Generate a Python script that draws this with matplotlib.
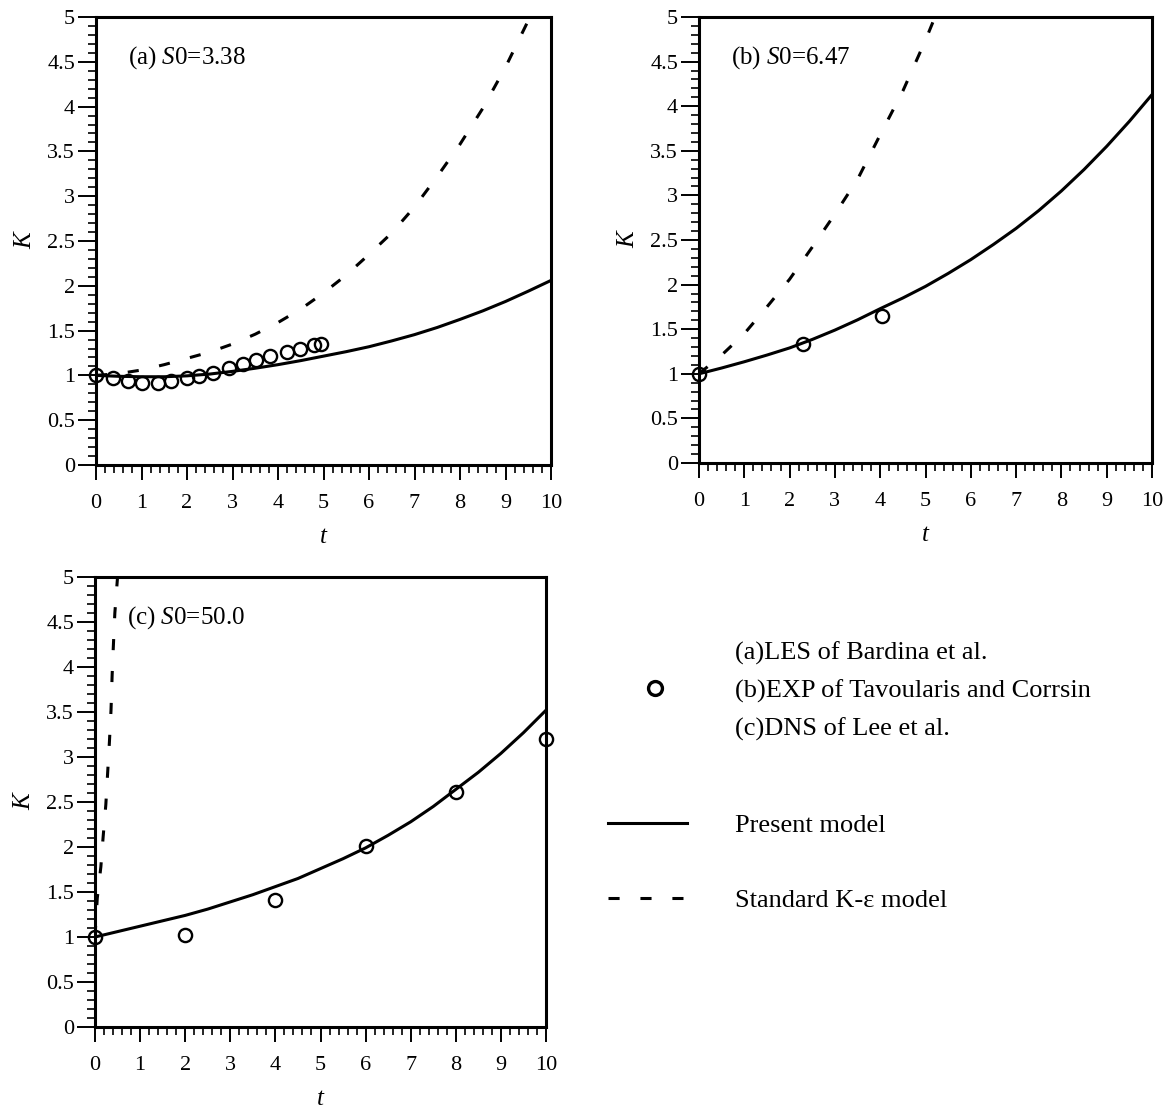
import numpy as np
import matplotlib
matplotlib.use('Agg')
import matplotlib.pyplot as plt
from matplotlib.lines import Line2D
from matplotlib.ticker import MultipleLocator, FormatStrFormatter

plt.rcParams['font.family'] = ['Liberation Serif', 'DejaVu Serif']
plt.rcParams['mathtext.fontset'] = 'custom'
plt.rcParams['mathtext.rm'] = 'Liberation Serif'
plt.rcParams['mathtext.it'] = 'Liberation Serif:italic'
plt.rcParams['lines.scale_dashes'] = False

# ---- data ----
# (a) S0 = 3.38
t_a_les = [0, 0.38, 0.70, 1.01, 1.36, 1.65, 1.99, 2.27, 2.58, 2.92, 3.22, 3.52, 3.82, 4.19, 4.48, 4.80, 4.95]
k_a_les = [1.00, 0.97, 0.94, 0.91, 0.91, 0.94, 0.97, 0.99, 1.03, 1.08, 1.13, 1.17, 1.22, 1.26, 1.30, 1.34, 1.35]
t_a_present = [0, 0.5, 1, 1.5, 2, 2.5, 3, 3.5, 4, 4.5, 5, 5.5, 6, 6.5, 7, 7.5, 8, 8.5, 9, 9.5, 10]
k_a_present = [1.0, 0.99, 0.985, 0.985, 0.995, 1.015, 1.045, 1.08, 1.12, 1.165, 1.215, 1.265, 1.32,
               1.385, 1.455, 1.535, 1.625, 1.72, 1.825, 1.94, 2.06]
t_a_keps = [0, 0.5, 1, 1.5, 2, 2.5, 3, 3.5, 4, 4.5, 5, 5.5, 6, 6.5, 7, 7.5, 8, 8.5, 9, 9.5]
k_a_keps = [1.0, 1.02, 1.06, 1.12, 1.19, 1.26, 1.35, 1.46, 1.59, 1.74, 1.92, 2.12, 2.35, 2.59,
            2.88, 3.22, 3.58, 3.98, 4.44, 4.96]

# (b) S0 = 6.47
t_b_exp = [0, 2.3, 4.05]
k_b_exp = [1.0, 1.33, 1.65]
t_b_present = [0, 0.5, 1, 1.5, 2, 2.5, 3, 3.5, 4, 4.5, 5, 5.5, 6, 6.5, 7, 7.5, 8, 8.5, 9, 9.5, 10]
k_b_present = [1.0, 1.065, 1.135, 1.21, 1.29, 1.385, 1.49, 1.605, 1.73, 1.85, 1.98, 2.125, 2.28,
               2.45, 2.63, 2.83, 3.05, 3.29, 3.55, 3.83, 4.13]
t_b_keps = [0, 0.5, 1, 1.5, 2, 2.5, 3, 3.5, 4, 4.5, 5, 5.25]
k_b_keps = [1.0, 1.21, 1.45, 1.75, 2.06, 2.42, 2.79, 3.18, 3.68, 4.17, 4.74, 5.05]

# (c) S0 = 50.0
t_c_dns = [0, 2, 4, 6, 8, 10]
k_c_dns = [1.0, 1.02, 1.41, 2.01, 2.61, 3.2]
t_c_present = [0, 0.5, 1, 1.5, 2, 2.5, 3, 3.5, 4, 4.5, 5, 5.5, 6, 6.5, 7, 7.5, 8, 8.5, 9, 9.5, 10]
k_c_present = [1.0, 1.06, 1.12, 1.18, 1.24, 1.31, 1.39, 1.47, 1.56, 1.65, 1.76, 1.87, 1.99,
               2.13, 2.28, 2.45, 2.64, 2.83, 3.04, 3.27, 3.52]
t_c_keps = [0, 0.05, 0.13, 0.18, 0.24, 0.28, 0.32, 0.355, 0.38, 0.405, 0.44, 0.5, 0.55]
k_c_keps = [1.0, 1.43, 1.78, 2.11, 2.47, 2.82, 3.17, 3.52, 3.91, 4.21, 4.6, 5.0, 5.3]

panel_labels = [r'(a) $S$0=3.38', r'(b) $S$0=6.47', r'(c) $S$0=50.0']
legend_exp = ['(a)LES of Bardina et al.', '(b)EXP of Tavoularis and Corrsin', '(c)DNS of Lee et al.']
legend_present = 'Present model'
legend_keps = 'Standard K-\u03b5 model'

dash = (0, (8, 15))
lw = 2.2

fig = plt.figure(figsize=(11.73, 11.10), dpi=100)
ax_a = fig.add_axes([96/1173, 1-465/1110, 455/1173, 448/1110])
ax_b = fig.add_axes([699/1173, 1-463/1110, 453/1173, 446/1110])
ax_c = fig.add_axes([95/1173, 1-1027/1110, 451/1173, 450/1110])

panels = [
    (ax_a, t_a_les, k_a_les, t_a_present, k_a_present, t_a_keps, k_a_keps),
    (ax_b, t_b_exp, k_b_exp, t_b_present, k_b_present, t_b_keps, k_b_keps),
    (ax_c, t_c_dns, k_c_dns, t_c_present, k_c_present, t_c_keps, k_c_keps),
]

for i, (ax, tm, km, tp, kp, tk, kk) in enumerate(panels):
    ax.plot(tp, kp, color='black', lw=lw, solid_capstyle='butt')
    ax.plot(tk, kk, color='black', lw=lw, ls=dash, dash_capstyle='butt')
    ax.plot(tm, km, ls='none', marker='o', ms=9.5, mew=1.7, mfc='none', mec='black', clip_on=False, zorder=5)
    ax.set_xlim(0, 10)
    ax.set_ylim(0, 5)
    ax.xaxis.set_major_locator(MultipleLocator(1))
    ax.xaxis.set_minor_locator(MultipleLocator(0.2))
    ax.yaxis.set_major_locator(MultipleLocator(0.5))
    ax.yaxis.set_minor_locator(MultipleLocator(0.1))
    ax.yaxis.set_major_formatter(FormatStrFormatter('%g'))
    ax.tick_params(axis='x', which='major', direction='out', length=11, width=1.4, pad=10, labelsize=16)
    ax.tick_params(axis='x', which='minor', direction='out', length=6, width=1.2)
    ax.tick_params(axis='y', which='major', direction='out', length=13, width=1.4, pad=2, labelsize=16)
    ax.tick_params(axis='y', which='minor', direction='out', length=6, width=1.2)
    for sp in ax.spines.values():
        sp.set_linewidth(2.2)
    ax.set_xlabel('t', fontsize=18, fontstyle='italic', labelpad=9)
    ax.set_ylabel('K', fontsize=18, fontstyle='italic', labelpad=8)
    ax.text(0.07, 0.91, panel_labels[i], transform=ax.transAxes, fontsize=18, va='center', ha='left')

# legend block: circle sits on the middle of the three source lines
h_blank = Line2D([], [], ls='none')
h_circle = Line2D([], [], ls='none', marker='o', ms=10, mew=2.4, mfc='none', mec='black')
leg1 = fig.legend([h_blank, h_circle, h_blank], legend_exp, loc='center left',
                  bbox_to_anchor=(620/1173, 1-691/1110), frameon=False, fontsize=19,
                  handlelength=2.65, handletextpad=1.7, labelspacing=0.55,
                  borderpad=0, borderaxespad=0)

h_solid = Line2D([], [], color='black', lw=lw)
h_dash = Line2D([], [], color='black', lw=lw, ls=dash)
leg2 = fig.legend([h_solid, h_dash], [legend_present, legend_keps], loc='center left',
                  bbox_to_anchor=(608/1173, 1-863/1110), frameon=False, fontsize=19,
                  handlelength=3.0, handletextpad=1.8, labelspacing=1.94,
                  borderpad=0, borderaxespad=0)

fig.savefig('out.png', dpi=100)
